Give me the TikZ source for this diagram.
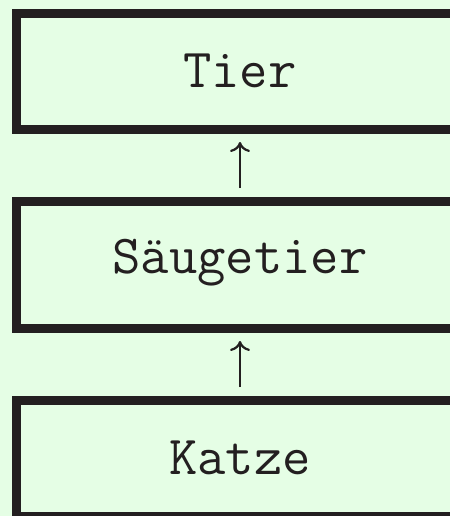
\documentclass[tikz,border=0pt]{standalone}
\usetikzlibrary{arrows.meta}
\definecolor{fondvert}{RGB}{229,254,229}
\definecolor{encre}{RGB}{35,31,32}
\tikzset{
  classe/.style={draw=encre, line width=4.5pt, fill=fondvert, text=encre,
    minimum width=223.5pt, inner xsep=0pt, inner ysep=20.75pt,
    text height=16.25pt, text depth=0.25pt, outer sep=0pt,
    font=\fontsize{27.5}{32}\selectfont\ttfamily},
  herite/.style={draw=encre, line width=1.1pt,
    -{Computer Modern Rightarrow[width=10pt,length=5pt]},
    shorten <=6.75pt, shorten >=6.25pt}
}
\begin{document}
\begin{tikzpicture}  % ------ Hierarchie der Klassen ---------------
      [x={(0.5pt,0pt)},y={(0pt,-0.5pt)}]
    \fill [fondvert] (0,0) rectangle (450,516) ;
    \useasboundingbox (0,0) rectangle (450,516) ;

    \node [classe] (tier)   at (240,71.5)  {Tier} ;
    \node [classe, text height=15pt, text depth=7pt]
                   (saeuge) at (240,265)   {Säugetier} ;
    \node [classe] (katze)  at (240,458.5) {Katze} ;

    \draw [herite] (saeuge.north) -- (tier.south) ;
    \draw [herite] (katze.north)  -- (saeuge.south) ;
\end{tikzpicture}
\end{document}
